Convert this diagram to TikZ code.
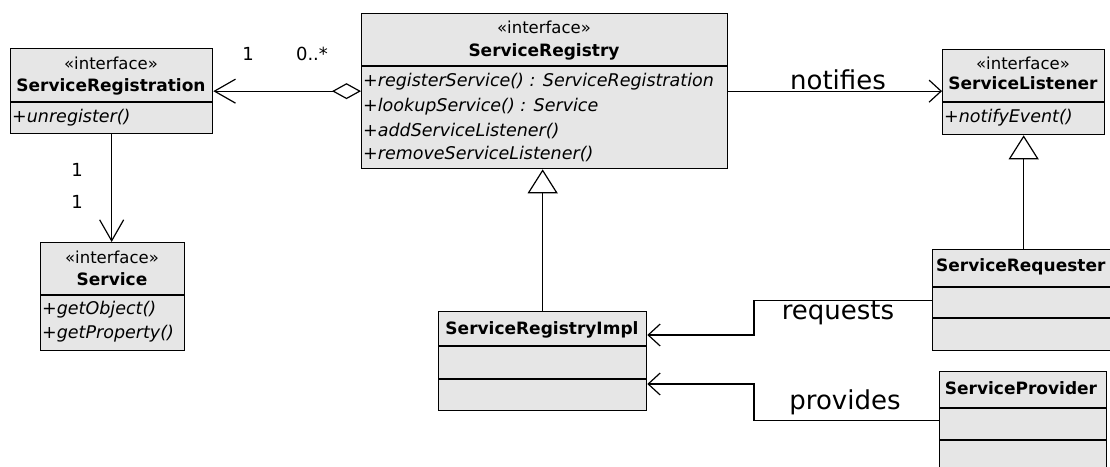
\documentclass[tikz,border=0pt]{standalone}
\usepackage{fontspec}
\setmainfont{DejaVu Sans}
\usetikzlibrary{arrows.meta}
\definecolor{boxfill}{RGB}{230,230,230}
\begin{document}
\begin{tikzpicture}[x=1pt,y=-1pt,
  cls/.style={draw, fill=boxfill, line width=1.3pt, inner sep=0pt, anchor=north west},
  ster/.style={font=\fontsize{16.5}{20}\selectfont, inner sep=0pt, anchor=base},
  cname/.style={font=\fontsize{17}{20}\selectfont\bfseries, inner sep=0pt, anchor=base},
  meth/.style={font=\fontsize{17.5}{20}\selectfont\itshape, inner sep=0pt, anchor=base west},
  mult/.style={font=\fontsize{18}{20}\selectfont, inner sep=0pt},
  lab/.style={font=\fontsize{26}{30}\selectfont, inner sep=0pt},
  conn/.style={line width=1.3pt},
  longbarb/.style={conn, -{Straight Barb[length=21pt,width=24pt,line width=1.2pt]}},
  shortbarb/.style={conn, -{Straight Barb[length=12pt,width=22pt,line width=1.2pt]}},
  gen/.style={conn, -{Triangle[open,length=24pt,width=30pt,fill=white,line width=1.2pt]}},
  agg/.style={conn, {Diamond[open,length=29pt,width=16pt,fill=white,line width=1.2pt]}-{Straight Barb[length=21pt,width=24pt,line width=1.2pt]}}
]
\useasboundingbox[fill=white] (0,0) rectangle (1110,466);

% ServiceRegistration
\node[cls, minimum width=202pt, minimum height=85pt] (reg) at (10,48) {};
\draw[line width=1.3pt] (reg.west |- 0,102) -- (reg.east |- 0,102);
\node[ster] (regS) at (111,69) {«interface»};
\node[cname] (regN) at (111,91) {ServiceRegistration};
\node[meth] (regM1) at (12,122) {+unregister()};

% ServiceRegistry
\node[cls, minimum width=366pt, minimum height=155pt] (sreg) at (361,13) {};
\draw[line width=1.3pt] (sreg.west |- 0,66) -- (sreg.east |- 0,66);
\node[ster] (sregS) at (544,33) {«interface»};
\node[cname] (sregN) at (544,56) {ServiceRegistry};
\node[meth] (sregM1) at (363,86) {+registerService() : ServiceRegistration};
\node[meth] (sregM2) at (363,111) {+lookupService() : Service};
\node[meth] (sregM3) at (363,136) {+addServiceListener()};
\node[meth] (sregM4) at (363,159) {+removeServiceListener()};

% ServiceListener
\node[cls, minimum width=162pt, minimum height=85pt] (lis) at (942,49) {};
\draw[line width=1.3pt] (lis.west |- 0,102) -- (lis.east |- 0,102);
\node[ster] (lisS) at (1023,69) {«interface»};
\node[cname] (lisN) at (1023,89) {ServiceListener};
\node[meth] (lisM1) at (944,122) {+notifyEvent()};

% Service
\node[cls, minimum width=144pt, minimum height=108pt] (svc) at (40,242) {};
\draw[line width=1.3pt] (svc.west |- 0,295) -- (svc.east |- 0,295);
\node[ster] (svcS) at (112,263) {«interface»};
\node[cname] (svcN) at (112,285) {Service};
\node[meth] (svcM1) at (42,314) {+getObject()};
\node[meth] (svcM2) at (42,338) {+getProperty()};

% ServiceRegistryImpl
\node[cls, minimum width=208pt, minimum height=99pt] (impl) at (438,311) {};
\draw[line width=1.3pt] (impl.west |- 0,346) -- (impl.east |- 0,346);
\draw[line width=1.3pt] (impl.west |- 0,379) -- (impl.east |- 0,379);
\node[cname] (implN) at (542,334) {ServiceRegistryImpl};

% ServiceRequester (runs past the right edge)
\node[cls, minimum width=190pt, minimum height=101pt] (req) at (932,249) {};
\draw[line width=1.3pt] (req.west |- 0,287) -- (req.east |- 0,287);
\draw[line width=1.3pt] (req.west |- 0,318) -- (req.east |- 0,318);
\node[cname, anchor=base west] (reqN) at (936,271) {ServiceRequester};

% ServiceProvider
\node[cls, minimum width=167pt, minimum height=98pt] (prov) at (939,371) {};
\draw[line width=1.3pt] (prov.west |- 0,408) -- (prov.east |- 0,408);
\draw[line width=1.3pt] (prov.west |- 0,440) -- (prov.east |- 0,440);
\node[cname] (provN) at (1021,394) {ServiceProvider};

% connectors
\draw[agg] (sreg.west) -- (reg.east);
\node[mult] (m1) at (248,54) {1};
\node[mult] (m2) at (312,54) {0..*};

\draw[longbarb] (reg.south) -- (reg.south |- svc.north);
\node[mult] (m3) at (77,170) {1};
\node[mult] (m4) at (77,202) {1};

\draw[shortbarb] (sreg.east) -- (sreg.east -| lis.west);
\node[lab] (nl) at (838,80) {notifies};

\draw[gen] (impl.north) -- (impl.north |- sreg.south);
\draw[gen] (lis.south |- req.north) -- (lis.south);

\draw[shortbarb] (req.west) -- ++(-178,0) |- ([yshift=-24pt]impl.north east);
\node[lab] (rl) at (838,313) {requests};

\draw[shortbarb] (prov.west) -- ++(-185,0) |- ([yshift=-73pt]impl.north east);
\node[lab] (pl) at (845,402) {provides};
\end{tikzpicture}
\end{document}
